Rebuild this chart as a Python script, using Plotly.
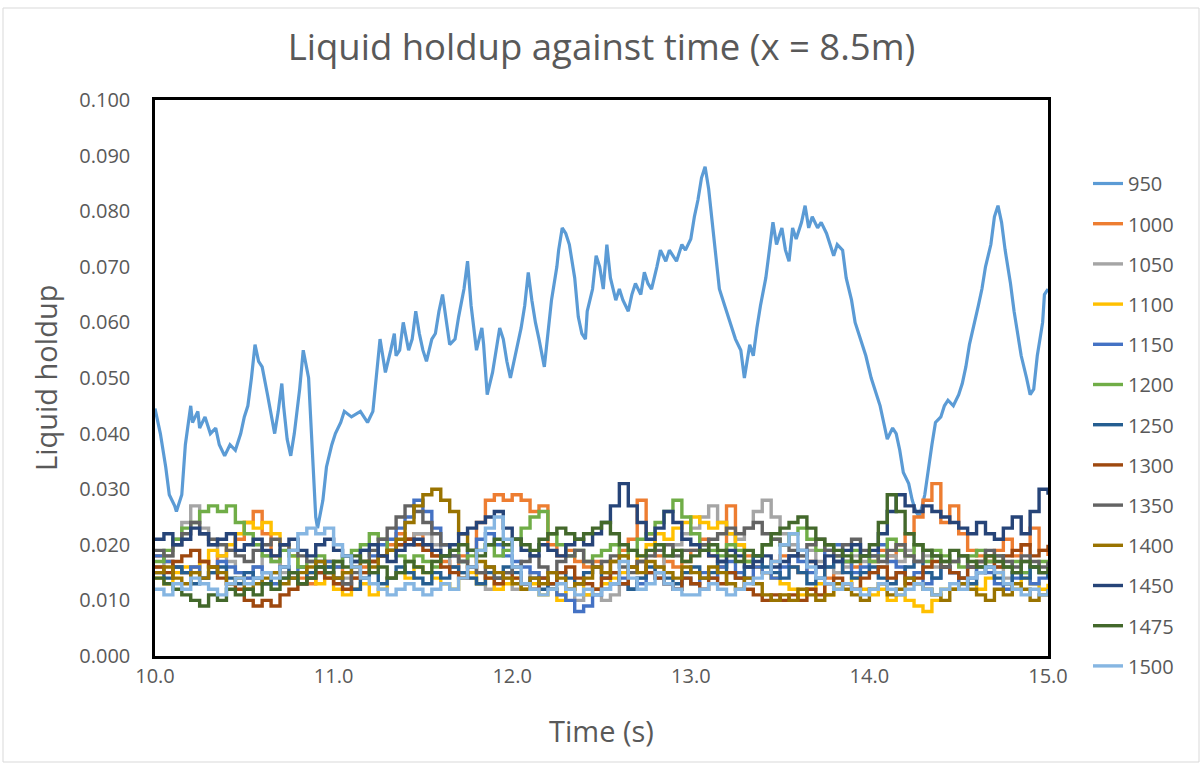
import plotly.graph_objects as go

# Liquid holdup at x = 8.5 m, values in units of 1e-3 (volume fraction x 1000)

# Series 950: irregular sample times (s) and holdup values
t_950 = [10.00, 10.03, 10.06, 10.08, 10.11, 10.12, 10.15, 10.17, 10.20, 10.21,
         10.24, 10.25, 10.28, 10.31, 10.34, 10.36, 10.39, 10.42, 10.45, 10.48,
         10.50, 10.52, 10.54, 10.56, 10.58, 10.60, 10.63, 10.66, 10.67, 10.69,
         10.71, 10.72, 10.74, 10.76, 10.78, 10.81, 10.83, 10.86, 10.88, 10.90,
         10.91, 10.94, 10.96, 10.99, 11.01, 11.04, 11.06, 11.10, 11.15, 11.19,
         11.22, 11.24, 11.26, 11.28, 11.29, 11.32, 11.34, 11.35, 11.37, 11.39,
         11.42, 11.44, 11.46, 11.48, 11.50, 11.52, 11.55, 11.57, 11.59, 11.61,
         11.63, 11.65, 11.68, 11.70, 11.73, 11.75, 11.77, 11.80, 11.83, 11.84,
         11.86, 11.89, 11.91, 11.93, 11.95, 11.97, 11.99, 12.01, 12.03, 12.05,
         12.07, 12.09, 12.11, 12.13, 12.15, 12.18, 12.20, 12.22, 12.25, 12.26,
         12.28, 12.30, 12.32, 12.35, 12.37, 12.39, 12.41, 12.42, 12.45, 12.47,
         12.49, 12.51, 12.53, 12.55, 12.58, 12.60, 12.62, 12.65, 12.67, 12.69,
         12.72, 12.74, 12.76, 12.78, 12.81, 12.83, 12.86, 12.88, 12.92, 12.95,
         12.97, 13.00, 13.02, 13.04, 13.06, 13.08, 13.10, 13.12, 13.14, 13.16,
         13.19, 13.21, 13.23, 13.25, 13.28, 13.30, 13.33, 13.35, 13.37, 13.39,
         13.42, 13.44, 13.46, 13.48, 13.51, 13.53, 13.55, 13.57, 13.59, 13.62,
         13.64, 13.66, 13.68, 13.71, 13.73, 13.76, 13.78, 13.80, 13.82, 13.85,
         13.87, 13.90, 13.92, 13.95, 13.98, 14.01, 14.04, 14.06, 14.08, 14.10,
         14.13, 14.15, 14.17, 14.19, 14.22, 14.24, 14.26, 14.28, 14.31, 14.33,
         14.35, 14.37, 14.40, 14.42, 14.44, 14.47, 14.50, 14.52, 14.54, 14.56,
         14.59, 14.61, 14.63, 14.65, 14.68, 14.70, 14.72, 14.74, 14.76, 14.79,
         14.81, 14.83, 14.85, 14.88, 14.90, 14.92, 14.94, 14.97, 14.98, 15.00]
holdup_950 = [44.5, 40, 34, 29, 27, 26, 29, 38, 45, 42,
              44, 41, 43, 40, 41, 38, 36, 38, 37, 40,
              43, 45, 50, 56, 53, 52, 47, 42, 40, 44,
              49, 45, 39, 36, 40, 48, 55, 50, 38, 25,
              23, 28, 34, 38, 40, 42, 44, 43, 44, 42,
              44, 50, 57, 53, 51, 55, 58, 54, 55, 60,
              55, 57, 62, 58, 55, 53, 57, 58, 62, 65,
              60, 56, 57, 61, 66, 71, 63, 55, 59, 56,
              47, 51, 55, 59, 57, 53, 50, 53, 56, 59,
              63, 69, 64, 60, 57, 52, 58, 64, 70, 73,
              77, 76, 74, 68, 61, 58, 57, 62, 66, 72,
              70, 66, 74, 68, 64, 66, 64, 62, 65, 67,
              65, 69, 67, 66, 70, 73, 71, 73, 71, 74,
              73, 75, 79, 82, 86, 88, 84, 78, 72, 66,
              63, 61, 59, 57, 55, 50, 56, 54, 59, 63,
              68, 73, 78, 74, 77, 73, 71, 77, 75, 78,
              81, 77, 79, 77, 78, 76, 74, 72, 74, 73,
              68, 64, 60, 57, 54, 50, 47, 45, 42, 39,
              41, 40, 37, 33, 31, 28, 26, 25, 29, 34,
              38, 42, 43, 45, 46, 45, 47, 49, 52, 56,
              60, 63, 66, 70, 74, 79, 81, 78, 73, 67,
              62, 58, 54, 50, 47, 48, 54, 60, 65, 66]

# Remaining series share a 0.05 s sampling grid from 10.00 s to 15.00 s
n_grid = 101
t_grid = [round(10 + 0.05 * i, 2) for i in range(n_grid)]

holdup_1000 = [18, 17, 16, 15, 16, 17, 16, 18, 19, 21,
               24, 26, 22, 18, 16, 15, 14, 13, 15, 17,
               16, 15, 14, 16, 17, 18, 20, 22, 21, 22,
               20, 18, 17, 16, 18, 16, 24, 28, 29, 28,
               29, 28, 26, 27, 20, 18, 19, 17, 16, 17,
               15, 17, 19, 21, 28, 22, 18, 17, 16, 17,
               19, 21, 18, 16, 27, 20, 18, 16, 15, 17,
               18, 16, 15, 17, 16, 14, 15, 17, 16, 18,
               17, 19, 18, 20, 22, 25, 28, 31, 24, 27,
               22, 19, 18, 17, 19, 21, 18, 20, 23, 19,
               18]
holdup_1050 = [16, 18, 21, 24, 27, 23, 20, 18, 17, 15,
               14, 16, 18, 17, 15, 14, 13, 15, 16, 14,
               13, 14, 16, 15, 17, 18, 19, 20, 21, 22,
               22, 20, 18, 16, 15, 14, 13, 12, 13, 14,
               12, 13, 15, 14, 12, 11, 12, 10, 11, 12,
               10, 11, 13, 12, 14, 15, 16, 18, 20, 22,
               23, 25, 27, 24, 22, 21, 23, 26, 28, 25,
               22, 20, 18, 19, 17, 16, 15, 16, 18, 17,
               15, 16, 18, 17, 19, 20, 18, 16, 17, 15,
               14, 16, 15, 17, 16, 14, 15, 17, 16, 15,
               16]
holdup_1100 = [14, 13, 15, 16, 15, 17, 19, 18, 20, 22,
               24, 23, 24, 22, 20, 18, 16, 15, 13, 14,
               12, 11, 12, 13, 11, 12, 14, 15, 14, 16,
               15, 14, 13, 12, 14, 15, 13, 14, 12, 13,
               14, 12, 13, 11, 12, 10, 12, 13, 11, 12,
               13, 14, 15, 16, 18, 20, 22, 21, 23, 24,
               25, 24, 23, 24, 22, 20, 17, 16, 15, 14,
               13, 12, 11, 12, 13, 11, 12, 13, 14, 12,
               11, 12, 10, 11, 10, 9, 8, 10, 12, 12,
               14, 13, 12, 14, 15, 13, 12, 14, 13, 12,
               13]
holdup_1150 = [18, 17, 16, 15, 16, 14, 15, 17, 16, 15,
               14, 16, 15, 13, 14, 15, 16, 14, 15, 17,
               16, 18, 17, 19, 18, 20, 21, 23, 25, 28,
               26, 23, 20, 18, 17, 19, 21, 22, 20, 18,
               17, 16, 15, 14, 12, 11, 10, 8, 9, 11,
               12, 13, 14, 12, 13, 15, 14, 13, 12, 14,
               13, 15, 14, 16, 17, 15, 14, 16, 15, 14,
               16, 18, 17, 15, 16, 19, 20, 17, 15, 16,
               18, 20, 17, 16, 14, 15, 13, 14, 16, 15,
               13, 14, 16, 15, 13, 12, 14, 15, 13, 14,
               15]
holdup_1200 = [17, 19, 21, 23, 24, 26, 27, 26, 27, 24,
               22, 20, 18, 17, 19, 18, 16, 17, 18, 16,
               17, 18, 19, 20, 22, 21, 19, 18, 17, 18,
               17, 16, 18, 19, 17, 18, 19, 20, 18, 19,
               21, 23, 25, 26, 22, 20, 18, 19, 17, 18,
               19, 20, 18, 19, 21, 22, 24, 26, 28, 25,
               22, 20, 19, 18, 20, 19, 17, 18, 20, 21,
               20, 22, 23, 21, 19, 20, 18, 17, 19, 18,
               17, 18, 21, 19, 18, 20, 17, 19, 18, 17,
               16, 18, 19, 17, 18, 16, 17, 15, 16, 17,
               16]
holdup_1250 = [15, 14, 16, 15, 13, 14, 15, 16, 14, 13,
               15, 14, 13, 15, 16, 14, 13, 15, 17, 16,
               14, 13, 12, 14, 15, 13, 14, 16, 15, 14,
               13, 15, 14, 16, 15, 14, 13, 15, 14, 16,
               15, 13, 14, 12, 13, 15, 14, 13, 15, 16,
               14, 15, 13, 12, 14, 16, 15, 14, 13, 15,
               16, 14, 15, 17, 15, 14, 16, 18, 16, 15,
               14, 16, 15, 13, 14, 16, 17, 15, 14, 15,
               16, 14, 13, 15, 16, 17, 15, 14, 16, 15,
               14, 13, 15, 16, 14, 13, 15, 14, 16, 15,
               14]
holdup_1300 = [16, 15, 17, 18, 19, 17, 16, 14, 13, 12,
               10, 9, 10, 9, 11, 12, 13, 14, 15, 14,
               13, 12, 14, 15, 17, 18, 19, 20, 21, 20,
               19, 18, 16, 15, 14, 16, 15, 14, 13, 15,
               14, 13, 12, 14, 13, 15, 16, 14, 13, 12,
               14, 15, 13, 16, 17, 15, 14, 13, 12, 14,
               13, 12, 14, 13, 15, 14, 12, 11, 10, 11,
               10, 11, 10, 12, 11, 13, 14, 13, 12, 14,
               15, 16, 14, 15, 13, 14, 16, 17, 16, 15,
               14, 16, 17, 18, 16, 18, 19, 20, 18, 19,
               20]
holdup_1350 = [19, 18, 20, 22, 24, 22, 21, 20, 19, 18,
               17, 19, 20, 21, 20, 19, 18, 17, 16, 15,
               14, 13, 15, 17, 19, 21, 23, 25, 27, 26,
               24, 22, 20, 18, 17, 16, 15, 16, 14, 15,
               16, 17, 18, 16, 15, 17, 18, 19, 17, 16,
               17, 18, 16, 15, 17, 18, 19, 20, 18, 19,
               19, 20, 21, 22, 23, 22, 23, 24, 22, 21,
               20, 19, 18, 20, 21, 19, 18, 20, 21, 19,
               18, 17, 19, 20, 18, 17, 19, 18, 16, 17,
               18, 16, 17, 19, 18, 17, 16, 18, 17, 16,
               17]
holdup_1400 = [15, 16, 14, 13, 15, 14, 16, 15, 13, 14,
               12, 13, 14, 15, 13, 14, 15, 16, 17, 15,
               14, 15, 16, 17, 16, 18, 19, 21, 24, 27,
               29, 30, 28, 26, 22, 19, 17, 16, 15, 14,
               13, 12, 14, 13, 15, 14, 12, 13, 14, 16,
               15, 17, 18, 16, 15, 17, 16, 15, 14, 16,
               15, 14, 16, 15, 13, 12, 14, 13, 11, 10,
               11, 10, 12, 11, 10, 11, 13, 12, 11, 10,
               12, 13, 11, 12, 14, 13, 12, 11, 10, 12,
               13, 12, 11, 10, 12, 11, 13, 12, 10, 11,
               12]
holdup_1450 = [21, 22, 20, 21, 23, 22, 20, 21, 22, 19,
               20, 21, 19, 18, 20, 21, 19, 18, 20, 21,
               19, 18, 17, 19, 20, 18, 17, 19, 20, 21,
               20, 19, 18, 20, 22, 23, 24, 25, 26, 23,
               21, 19, 18, 20, 19, 18, 20, 21, 20, 22,
               24, 27, 31, 27, 24, 21, 23, 26, 24, 21,
               20, 19, 18, 17, 19, 18, 16, 17, 18, 16,
               17, 18, 19, 17, 16, 18, 17, 19, 20, 18,
               19, 22, 26, 29, 27, 26, 27, 26, 25, 24,
               23, 22, 24, 22, 21, 23, 25, 22, 26, 30,
               29]
holdup_1475 = [14, 13, 12, 11, 10, 9, 11, 10, 12, 11,
               12, 11, 13, 12, 14, 15, 13, 14, 16, 15,
               17, 16, 18, 17, 15, 16, 14, 15, 17, 16,
               15, 17, 18, 19, 20, 19, 18, 20, 21, 20,
               21, 20, 19, 21, 22, 23, 22, 21, 22, 23,
               24, 22, 20, 19, 18, 19, 20, 18, 19, 17,
               18, 19, 20, 19, 18, 17, 19, 18, 20, 22,
               23, 24, 25, 23, 21, 20, 19, 18, 17, 18,
               20, 24, 29, 26, 22, 20, 19, 18, 17, 19,
               18, 17, 16, 18, 17, 16, 15, 17, 16, 15,
               16]
holdup_1500 = [12, 11, 13, 12, 14, 13, 12, 11, 13, 14,
               13, 14, 15, 14, 16, 19, 22, 23, 22, 23,
               20, 18, 16, 14, 13, 12, 11, 12, 13, 12,
               11, 12, 13, 12, 14, 16, 19, 23, 25, 21,
               16, 13, 12, 11, 12, 13, 12, 11, 12, 11,
               12, 13, 17, 14, 12, 13, 15, 13, 12, 11,
               11, 12, 13, 12, 11, 12, 13, 14, 15, 17,
               20, 22, 19, 16, 14, 13, 12, 13, 12, 11,
               12, 13, 12, 11, 12, 13, 12, 11, 12, 13,
               12, 14, 15, 16, 15, 13, 12, 11, 12, 11,
               12]

series_names = ["950", "1000", "1050", "1100", "1150", "1200", "1250",
                "1300", "1350", "1400", "1450", "1475", "1500"]
series_colors = ["#5B9BD5", "#ED7D31", "#A5A5A5", "#FFC000", "#4472C4",
                 "#70AD47", "#255E91", "#9E480E", "#636363", "#997300",
                 "#264478", "#43682B", "#86B6E2"]
grid_series = [holdup_1000, holdup_1050, holdup_1100, holdup_1150,
               holdup_1200, holdup_1250, holdup_1300, holdup_1350,
               holdup_1400, holdup_1450, holdup_1475, holdup_1500]

y_ticks = [0.000, 0.010, 0.020, 0.030, 0.040, 0.050,
           0.060, 0.070, 0.080, 0.090, 0.100]
x_ticks = [10.0, 11.0, 12.0, 13.0, 14.0, 15.0]

FONT = "Open Sans"
GREY = "#595959"

fig = go.Figure()

fig.add_trace(go.Scatter(
    x=t_950, y=[v / 1000 for v in holdup_950], mode="lines",
    name=series_names[0], legendgroup=series_names[0],
    line=dict(color=series_colors[0], width=3.2),
))
for name, color, vals in zip(series_names[1:], series_colors[1:], grid_series):
    fig.add_trace(go.Scatter(
        x=t_grid, y=[v / 1000 for v in vals], mode="lines",
        name=name, legendgroup=name,
        line=dict(color=color, width=3.4, shape="hv"),
    ))

L, R, T, B = 155, 155, 100, 111
W, H = 1203, 767
pw, ph = W - L - R, H - T - B

fig.update_layout(
    width=W, height=H,
    margin=dict(l=L, r=R, t=T, b=B),
    paper_bgcolor="white", plot_bgcolor="white",
    font=dict(family=FONT, color=GREY),
    title=dict(text="Liquid holdup against time (x = 8.5m)",
               x=0.5, xanchor="center", y=1 - 47 / H, yanchor="middle",
               font=dict(size=36.5, color=GREY, family=FONT)),
    showlegend=True,
    legend=dict(x=(1088 - L) / pw, xanchor="left",
                y=(H - B - 164) / ph, yanchor="top",
                font=dict(size=20, color=GREY, family=FONT),
                tracegroupgap=11.2, bgcolor="rgba(0,0,0,0)",
                itemwidth=30),
    xaxis=dict(range=[10, 15], tickvals=x_ticks,
               ticktext=[f"{v:.1f}" for v in x_ticks],
               showgrid=False, zeroline=False, ticks="",
               showline=True, mirror=True, linecolor="black", linewidth=2.5,
               tickfont=dict(size=20, color=GREY, family=FONT)),
    yaxis=dict(range=[0, 0.1], tickvals=y_ticks,
               ticktext=[f"{v:.3f}" for v in y_ticks],
               showgrid=False, zeroline=False, ticks="",
               showline=True, mirror=True, linecolor="black", linewidth=2.5,
               ticklabelstandoff=18,
               tickfont=dict(size=20, color=GREY, family=FONT)),
    annotations=[
        dict(text="Time (s)", xref="paper", yref="paper",
             x=0.5, y=-(730 - (H - B)) / ph, xanchor="center", yanchor="middle",
             showarrow=False, font=dict(size=29, color=GREY, family=FONT)),
        dict(text="Liquid holdup", xref="paper", yref="paper",
             x=-(L - 45) / pw, y=(H - B - 378) / ph, xanchor="center",
             yanchor="middle", textangle=-90, showarrow=False,
             font=dict(size=29, color=GREY, family=FONT)),
    ],
    shapes=[dict(type="rect", xref="paper", yref="paper",
                 x0=-(L - 3) / pw, x1=(1199 - L) / pw,
                 y0=-(762 - (H - B)) / ph, y1=(H - B - 8) / ph,
                 line=dict(color="#D9D9D9", width=1), layer="below")],
)

fig.write_html("out.html")
